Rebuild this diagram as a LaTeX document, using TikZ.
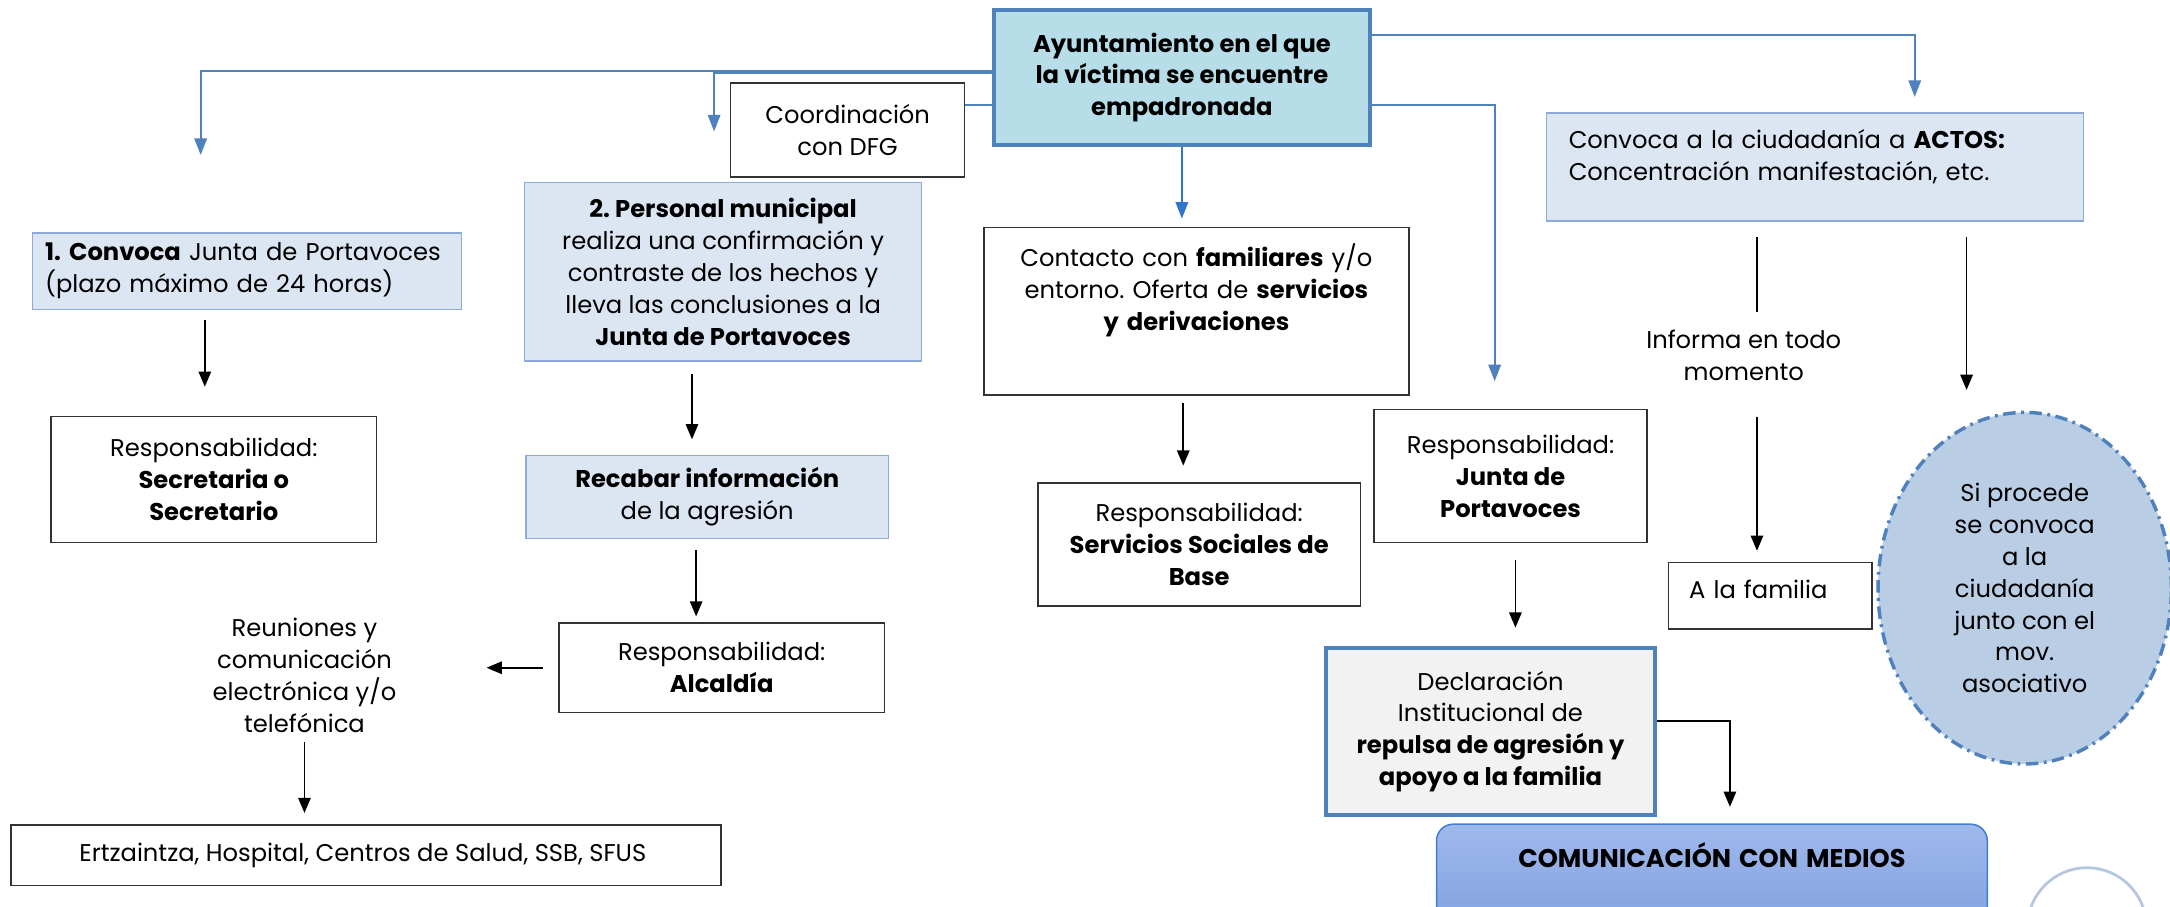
\documentclass[tikz,border=0pt]{standalone}
\usepackage{fontspec}
\setmainfont{Poppins}
\usetikzlibrary{arrows.meta}
\usetikzlibrary{calc}
\usetikzlibrary{shapes.geometric}
\definecolor{paleblue}{HTML}{DCE6F2}
\definecolor{paleedge}{HTML}{8EAADB}
\definecolor{mainfill}{HTML}{B7DEE8}
\definecolor{darkedge}{HTML}{4F81BD}
\definecolor{lineblue}{HTML}{4F81BD}
\definecolor{brightblue}{HTML}{2E75CB}
\definecolor{greyfill}{HTML}{F2F2F2}
\definecolor{ovalfill}{HTML}{B9CDE5}
\definecolor{mediatop}{HTML}{A0B9EC}
\definecolor{mediabot}{HTML}{7B9BDC}
\definecolor{mediaedge}{HTML}{3D7FD6}
\definecolor{ringgrey}{HTML}{B4C6E0}
\newcommand\boxfont{\fontsize{17.5}{23}\selectfont\frenchspacing}
\def\picW{1568}
\def\picH{655}

\begin{document}
\begin{tikzpicture}[
    x=1pt, y=-1pt,
    every node/.style={
      font=\boxfont, inner sep=0pt
    },
    arrowtip/.style={
      -{Triangle[length=11pt,width=9pt]}, line width=1.2pt
    },
    bluetip/.style={
      -{Triangle[length=12pt,width=9pt]}, draw=lineblue, line width=1.4pt
    },
    blueline/.style={
      draw=lineblue, line width=1.4pt
    },
    plainbox/.style={
      draw=black!80, fill=white, line width=1.1pt, align=center
    },
    bluebox/.style={
      draw=paleedge, fill=paleblue, line width=1.1pt, align=center
    },
    thickbox/.style={
      draw=darkedge, line width=3pt, align=center
    },
    mediabox/.style={
      draw=mediaedge, line width=1.1pt, rounded corners=12pt,
      top color=mediatop, bottom color=mediabot, align=center
    },
    oval/.style={
      ellipse, draw=darkedge, fill=ovalfill, line width=2.5pt,
      dash pattern=on 9pt off 4pt on 2pt off 4pt, align=center
    },
    freetext/.style={
      align=center
    }
  ]
    \useasboundingbox (0,0) rectangle (\picW,\picH);
    \clip (0,0) rectangle (\picW,\picH);

    % top
    \node[thickbox, fill=mainfill, minimum width=272pt, minimum height=97pt] (main) at (854,56)
      { \textbf{Ayuntamiento en el que}\\\textbf{la víctima se encuentre}\\\textbf{empadronada} };
    \node[plainbox, minimum width=169pt, minimum height=68pt] (coord) at (612.5,94)
      { Coordinación\\con DFG };

    % left column
    \node[bluebox, align=left, anchor=north west, inner xsep=9pt, text width=292pt,
          text height=20pt, text depth=35pt] (conv) at (23,168)
      { \textbf{1. Convoca} Junta de Portavoces\\(plazo máximo de 24 horas) };
    \node[plainbox, minimum width=235pt, minimum height=91pt] (secr) at (154.5,346.5)
      { Responsabilidad:\\\textbf{Secretaria o}\\\textbf{Secretario} };
    \node[freetext] (reun) at (220,488)
      { Reuniones y\\comunicación\\electrónica y/o\\telefónica };
    \node[plainbox, minimum width=513pt, minimum height=44pt] (ertz) at (264.5,618)
      { Ertzaintza, Hospital, Centros de Salud, SSB, SFUS };

    % second column
    \node[bluebox, minimum width=287pt, minimum height=129pt] (pers) at (522.5,196.5)
      { \textbf{2. Personal municipal}\\realiza una confirmación y\\contraste de los hechos y\\lleva las conclusiones a la\\\textbf{Junta de Portavoces} };
    \node[bluebox, minimum width=262pt, minimum height=60pt] (recab) at (511,359)
      { \textbf{Recabar información}\\de la agresión };
    \node[plainbox, minimum width=235pt, minimum height=65pt] (alcal) at (521.5,482.5)
      { Responsabilidad:\\\textbf{Alcaldía} };

    % middle
    \node[plainbox, anchor=north, text width=307pt, text height=28pt, text depth=93pt] (cont) at (864.5,164)
      { Contacto con \textbf{familiares} y/o\\entorno. Oferta de \textbf{servicios}\\\textbf{y derivaciones} };
    \node[plainbox, minimum width=233pt, minimum height=89pt] (ssb) at (866.5,393.5)
      { Responsabilidad:\\\textbf{Servicios Sociales de}\\\textbf{Base} };
    \node[plainbox, minimum width=197pt, minimum height=96pt] (junta) at (1091.5,344)
      { Responsabilidad:\\\textbf{Junta de}\\\textbf{Portavoces} };
    \node[thickbox, fill=greyfill, minimum width=238pt, minimum height=121pt] (decl) at (1077,528.5)
      { Declaración\\Institucional de\\\textbf{repulsa de agresión y}\\\textbf{apoyo a la familia} };
    \node[mediabox, anchor=north, text width=398pt, text height=31pt, text depth=60pt] (media) at (1237,595)
      { \fontsize{18.5}{23}\selectfont\textbf{COMUNICACIÓN CON MEDIOS} };

    % right
    \node[bluebox, align=left, anchor=north west, inner xsep=16pt, text width=356pt,
          text height=26pt, text depth=52pt] (actos) at (1117,81)
      { Convoca a la ciudadanía a \textbf{ACTOS:}\\Concentración manifestación, etc. };
    \node[freetext] (inform) at (1260,257) { Informa en todo\\momento };
    \node[plainbox, align=left, anchor=north west, inner xsep=15pt, text width=117pt,
          text height=26pt, text depth=22pt] (fam) at (1205,406) { A la familia };
    \node[oval, minimum width=212pt, minimum height=254pt] (ciud) at (1463,425)
      { Si procede\\se convoca\\a la\\ciudadanía\\junto con el\\mov.\\asociativo };
    \draw[ringgrey, line width=2pt] (1508,670) circle[radius=43];

    % blue connectors
    \coordinate (tipA) at (145,112);
    \coordinate (tipB) at (516,95);
    \draw[bluetip] ($(main.west)+(0,-5)$) -| (tipA);
    \draw[bluetip] ($(main.west)+(0,-3)$) -| (tipB);
    \draw[blueline] ($(coord.east)+(0,-18)$) -- ($(main.west)+(0,20)$);
    \draw[bluetip, shorten >=11pt] ($(main.east)+(0,-31)$) -| ($(actos.north)+(72,0)$);
    \draw[bluetip, shorten >=20pt] ($(main.east)+(0,20)$) -| ($(junta.north)+(-11.5,0)$);
    \draw[bluetip, draw=brightblue, shorten >=6pt] (main.south) -- (main.south |- cont.north);

    % black arrows
    \draw[arrowtip, shorten <=7pt, shorten >=21pt] ($(secr.north |- conv.south)+(-6.5,0)$) -- ($(secr.north)+(-6.5,0)$);
    \draw[arrowtip, shorten <=9pt, shorten >=11pt] ($(recab.north |- pers.south)+(-11,0)$) -- ($(recab.north)+(-11,0)$);
    \draw[arrowtip, shorten <=8pt, shorten >=4pt] ($(alcal.north |- recab.south)+(-18.5,0)$) -- ($(alcal.north)+(-18.5,0)$);
    \draw[arrowtip, shorten <=11pt, shorten >=65pt] (alcal.west) -- (alcal.west -| reun.east);
    \draw[arrowtip, shorten <=7pt, shorten >=8pt] (reun.south) -- (reun.south |- ertz.north);
    \draw[arrowtip, shorten <=5pt, shorten >=12pt] ($(ssb.north |- cont.south)+(-11.5,0)$) -- ($(ssb.north)+(-11.5,0)$);
    \draw[arrowtip, shorten <=12pt, shorten >=13pt] ($(junta.south)+(3.5,0)$) -- ($(junta.south |- decl.north)+(3.5,0)$);
    \draw[arrowtip, shorten >=12pt] ($(decl.east)+(0,-7.5)$) -| ($(media.north)+(13,0)$);
    \draw[line width=1.2pt, shorten <=11pt] ($(actos.south)+(-42,0)$) -- ($(actos.south)+(-42,65)$);
    \draw[arrowtip, shorten >=8pt] ($(fam.north)+(-9.5,-105)$) -- ($(fam.north)+(-9.5,0)$);
    \draw[arrowtip, shorten <=11pt, shorten >=15pt] ($(ciud.north |- actos.south)+(-42,0)$) -- ($(ciud.north)+(-42,0)$);
  \end{tikzpicture}
\end{document}
